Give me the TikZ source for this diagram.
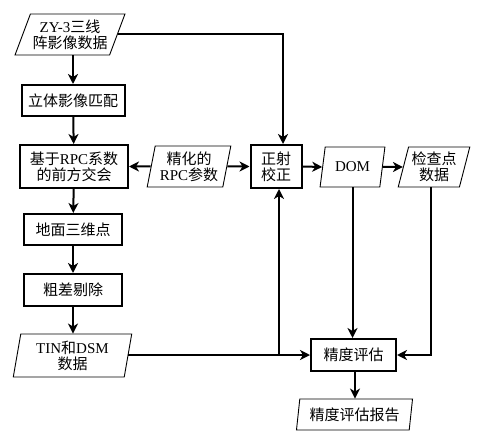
\documentclass[tikz,border=0pt]{standalone}
\usepackage{fontspec}
\setmainfont{Liberation Serif}
\newfontfamily\cjk{Noto Sans CJK SC}
\usetikzlibrary{shapes.geometric,arrows.meta}
\begin{document}
\begin{tikzpicture}[x=1pt,y=-1pt,
  every node/.style={font=\fontsize{15}{16}\selectfont, align=center, inner sep=0pt},
  procbox/.style={draw, line width=2pt, rectangle},
  databox/.style={draw, line width=0.9pt, trapezium, trapezium stretches=true,
    trapezium left angle=#1, trapezium right angle=180-#1},
  conn/.style={line width=2pt, -{Stealth[length=10pt,width=10pt,inset=3pt]}}]
\useasboundingbox (0,0) rectangle (486,438);
% nodes
\node[databox=64, minimum width=110pt, minimum height=41pt] (zy) at (70,34.5)
  {ZY-3{\cjk 三线}\\[0pt]{\cjk 阵影像数据}};
\node[procbox, minimum width=103pt, minimum height=31pt] (match) at (73,100.5) {\cjk 立体影像匹配};
\node[procbox, minimum width=108pt, minimum height=43pt] (fwd) at (74,166.5)
  {{\cjk 基于}RPC{\cjk 系数}\\[0pt]{\cjk 的前方交会}};
\node[databox=77, minimum width=84pt, minimum height=41pt] (rpc) at (189,166.5)
  {{\cjk 精化的}\\[0pt]RPC{\cjk 参数}};
\node[procbox, minimum width=51pt, minimum height=43pt] (ortho) at (276,166.5)
  {{\cjk 正射}\\[0pt]{\cjk 校正}};
\node[databox=72, minimum width=65pt, minimum height=40pt] (dom) at (352.5,167) {DOM};
\node[databox=73, minimum width=72pt, minimum height=40pt] (chk) at (434,167)
  {{\cjk 检查点}\\[0pt]{\cjk 数据}};
\node[procbox, minimum width=98pt, minimum height=31pt] (ground) at (73,229.5) {\cjk 地面三维点};
\node[procbox, minimum width=98pt, minimum height=32pt] (gross) at (73,290) {\cjk 粗差剔除};
\node[databox=80, minimum width=119pt, minimum height=43pt] (tin) at (72.5,355.5)
  {TIN{\cjk 和}DSM\\[0pt]{\cjk 数据}};
\node[procbox, minimum width=85pt, minimum height=32pt] (eval) at (353.5,355) {\cjk 精度评估};
\node[databox=79, minimum width=117pt, minimum height=31pt] (report) at (354.5,414.5) {\cjk 精度评估报告};
% connectors
\draw[conn] (zy.south -| match.north) -- (match.north);
\draw[conn] (match) -- (fwd);
\draw[conn] (fwd) -- (ground);
\draw[conn] (ground) -- (gross);
\draw[conn] (gross.south) -- (tin.north -| gross.south);
\draw[conn] (rpc.west) -- (fwd.east);
\draw[conn] (rpc.east) -- (ortho.west);
\coordinate (topin) at ([xshift=7pt]ortho.north);
\draw[conn] (zy.east) -| (topin);
\draw[conn] (ortho.east) -- (dom.west);
\draw[conn] (dom.east) -- (chk.west);
\coordinate (branch) at ([xshift=3pt]ortho.south |- eval.west);
\draw[conn] (tin.east |- eval.west) -- (eval.west);
\draw[conn] (branch) -- ([xshift=3pt]ortho.south);
\draw[conn] (dom.south) -- (dom.south |- eval.north);
\draw[conn] (chk.south -| 431,0) |- (eval.east);
\draw[conn] ([xshift=1.5pt]eval.south) -- ([xshift=1.5pt]eval.south |- report.north);
\end{tikzpicture}
\end{document}
